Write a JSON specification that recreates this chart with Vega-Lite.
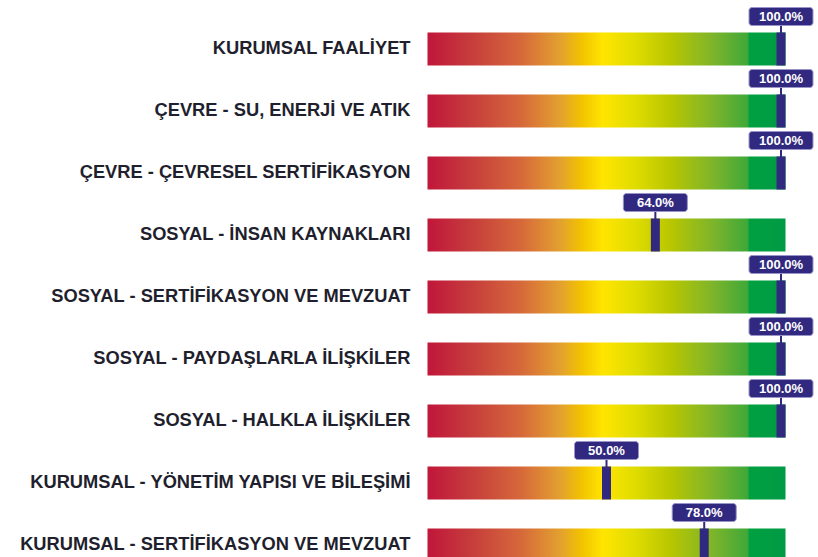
{
  "$schema": "https://vega.github.io/schema/vega-lite/v6.json",
  "width": 349,
  "height": 558,
  "autosize": "none",
  "padding": {"left": 432, "top": 18, "right": 37, "bottom": 0},
  "background": "white",
  "config": {"view": {"stroke": null}},
  "data": {
    "values": [
      {"kategori": "KURUMSAL FAALİYET", "deger": 1.0},
      {"kategori": "ÇEVRE - SU, ENERJİ VE ATIK", "deger": 1.0},
      {"kategori": "ÇEVRE - ÇEVRESEL SERTİFİKASYON", "deger": 1.0},
      {"kategori": "SOSYAL - İNSAN KAYNAKLARI", "deger": 0.64},
      {"kategori": "SOSYAL - SERTİFİKASYON VE MEVZUAT", "deger": 1.0},
      {"kategori": "SOSYAL - PAYDAŞLARLA İLİŞKİLER", "deger": 1.0},
      {"kategori": "SOSYAL - HALKLA İLİŞKİLER", "deger": 1.0},
      {"kategori": "KURUMSAL - YÖNETİM YAPISI VE BİLEŞİMİ", "deger": 0.5},
      {"kategori": "KURUMSAL - SERTİFİKASYON VE MEVZUAT", "deger": 0.78}
    ]
  },
  "encoding": {
    "y": {
      "field": "kategori",
      "type": "nominal",
      "sort": null,
      "scale": {"paddingInner": 0.4677, "paddingOuter": 0.2339},
      "axis": {
        "title": null,
        "ticks": false,
        "domain": false,
        "labelFont": "Liberation Sans",
        "labelFontSize": 18.3,
        "labelFontWeight": "bold",
        "labelColor": "#1f1f2e",
        "labelPadding": 22,
        "labelLimit": 0
      }
    }
  },
  "layer": [
    {
      "mark": {
        "type": "rect",
        "xOffset": -4.5,
        "x2Offset": 4.5,
        "color": {
          "gradient": "linear",
          "x1": 0, "y1": 0, "x2": 1, "y2": 0,
          "stops": [
            {"offset": 0, "color": "#C0163A"},
            {"offset": 0.12, "color": "#C63C3C"},
            {"offset": 0.26, "color": "#D6683A"},
            {"offset": 0.37, "color": "#E3A030"},
            {"offset": 0.43, "color": "#F2C200"},
            {"offset": 0.49, "color": "#FFE500"},
            {"offset": 0.58, "color": "#E0DC00"},
            {"offset": 0.68, "color": "#B8C600"},
            {"offset": 0.8, "color": "#7CB42C"},
            {"offset": 0.895, "color": "#3FA838"},
            {"offset": 0.898, "color": "#00A040"},
            {"offset": 1, "color": "#009A45"}
          ]
        }
      },
      "encoding": {
        "x": {"datum": 0, "type": "quantitative", "scale": {"domain": [0, 1]}, "axis": null},
        "x2": {"datum": 1}
      }
    },
    {
      "mark": {"type": "tick", "orient": "vertical", "thickness": 9, "size": 33, "color": "#31297F", "opacity": 1},
      "encoding": {
        "x": {"field": "deger", "type": "quantitative"}
      }
    },
    {
      "mark": {"type": "tick", "orient": "vertical", "thickness": 2, "size": 8, "yOffset": -20, "color": "#31297F", "opacity": 1},
      "encoding": {
        "x": {"field": "deger", "type": "quantitative"}
      }
    },
    {
      "mark": {"type": "rect", "width": 64, "height": 18, "yOffset": -32.5, "cornerRadius": 3, "color": "#31297F", "stroke": "#9A95C8", "strokeWidth": 1},
      "encoding": {
        "x": {"field": "deger", "type": "quantitative"}
      }
    },
    {
      "mark": {"type": "text", "yOffset": -32, "color": "white", "font": "Liberation Sans", "fontSize": 13, "fontWeight": "bold", "align": "center", "baseline": "middle"},
      "encoding": {
        "x": {"field": "deger", "type": "quantitative"},
        "text": {"field": "deger", "type": "quantitative", "format": ".1%"}
      }
    }
  ]
}
